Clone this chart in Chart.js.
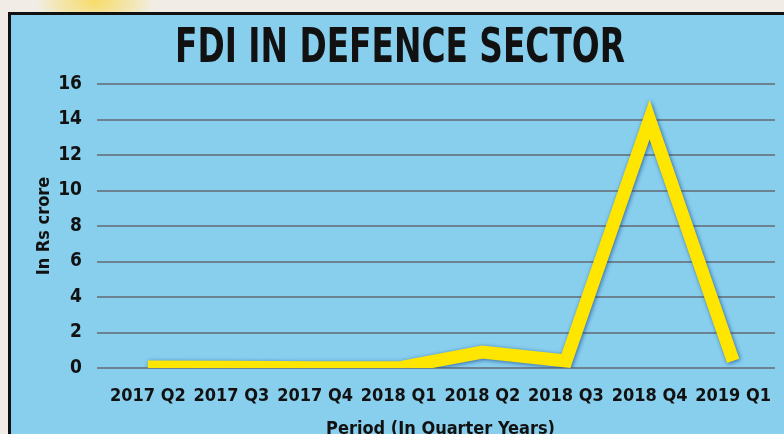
<!DOCTYPE html>
<html>
<head>
<meta charset="utf-8">
<script src="https://cdn.jsdelivr.net/npm/chart.js@4.4.1/dist/chart.umd.min.js"></script>
<style>
  html, body { margin: 0; padding: 0; }
  body {
    width: 784px; height: 434px; overflow: hidden; position: relative;
    background: radial-gradient(ellipse 60px 30px at 95px 2px, #f7dc6a 0%, #f3e6b0 60%, rgba(243,238,228,0) 100%), #f1ede6;
  }
  #panel {
    position: absolute; left: 8px; top: 12px; width: 790px; height: 440px;
    background: #88cfee; border-left: 3px solid #111; border-top: 3px solid #111;
  }
  #wrap { position: absolute; left: 0; top: 0; width: 784px; height: 434px; }
</style>
</head>
<body>
<div id="panel"></div>
<div id="wrap"><canvas id="fdiChart"></canvas></div>
<script>
// FDI in defence sector, Rs crore per quarter
const quarters = ['2017 Q2', '2017 Q3', '2017 Q4', '2018 Q1', '2018 Q2', '2018 Q3', '2018 Q4', '2019 Q1'];
const fdiValues = [0.05, 0.04, 0.01, 0.01, 0.9, 0.4, 14, 0.4];
const yTicks = [0, 2, 4, 6, 8, 10, 12, 14, 16];
const chartTitle = 'FDI IN DEFENCE SECTOR';

const cond = "'DejaVu Sans Condensed', 'Liberation Sans Narrow', sans-serif";

// soft dark-blue shadow under the yellow line
const lineShadow = {
    id: 'lineShadow',
    beforeDatasetsDraw(chart) {
        const c = chart.ctx;
        c.save();
        c.shadowColor = 'rgba(20, 70, 140, 0.75)';
        c.shadowBlur = 4;
        c.shadowOffsetX = 1;
        c.shadowOffsetY = 1;
    },
    afterDatasetsDraw(chart) {
        chart.ctx.restore();
    }
};

// heavy, squeezed headline like the newspaper graphic
const narrowTitle = {
    id: 'narrowTitle',
    afterDraw(chart) {
        const c = chart.ctx;
        c.save();
        c.translate(400, 62);
        c.scale(0.76, 1);
        c.font = "bold 48px " + cond;
        c.fillStyle = '#111';
        c.textAlign = 'center';
        c.textBaseline = 'alphabetic';
        c.fillText(chartTitle, 0, 0);
        c.restore();
    }
};

const ctx = document.getElementById('fdiChart').getContext('2d');
new Chart(ctx, {
    type: 'line',
    data: {
        labels: quarters,
        datasets: [{
            label: 'FDI',
            data: fdiValues,
            borderColor: '#ffe600',
            borderWidth: 13,
            borderCapStyle: 'butt',
            borderJoinStyle: 'miter',
            pointRadius: 0,
            fill: false,
            tension: 0
        }]
    },
    options: {
        responsive: true,
        maintainAspectRatio: false,
        animation: false,
        layout: { padding: { left: 34, right: 9, top: 84, bottom: 0 } },
        plugins: {
            legend: { display: false },
            tooltip: { enabled: false },
            title: { display: false }
        },
        scales: {
            x: {
                offset: true,
                grid: { display: false },
                border: { display: false },
                ticks: {
                    color: '#111',
                    padding: 10,
                    maxRotation: 0,
                    autoSkip: false,
                    font: { family: cond, size: 18, weight: 'bold' }
                },
                title: {
                    display: true,
                    text: 'Period (In Quarter Years)',
                    color: '#111',
                    padding: { top: 24, bottom: -6 },
                    font: { family: cond, size: 18, weight: 'bold' }
                },
                afterFit(scale) { scale.height = 66; }
            },
            y: {
                min: 0,
                max: 16,
                afterBuildTicks(scale) { scale.ticks = yTicks.map(v => ({ value: v })); },
                grid: { color: '#6d8391', lineWidth: 2, drawTicks: true, tickLength: 9 },
                border: { display: false },
                ticks: {
                    color: '#111',
                    padding: 15,
                    font: { family: cond, size: 19, weight: 'bold' }
                },
                title: {
                    display: true,
                    text: 'In Rs crore',
                    color: '#111',
                    padding: { top: 0, bottom: 0 },
                    font: { family: cond, size: 18, weight: 'bold' }
                },
                afterFit(scale) { scale.width = 72; }
            }
        }
    },
    plugins: [lineShadow, narrowTitle]
});
</script>
</body>
</html>
